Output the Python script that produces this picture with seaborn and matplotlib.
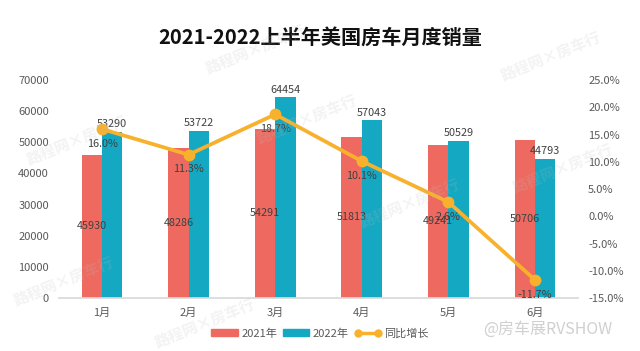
import matplotlib
matplotlib.use("Agg")
import matplotlib.pyplot as plt
import seaborn as sns
import pandas as pd
import numpy as np
from matplotlib.patches import Patch
from matplotlib.lines import Line2D

months = ["1月", "2月", "3月", "4月", "5月", "6月"]
sales_2021 = [45930, 48286, 54291, 51813, 49241, 50706]
sales_2022 = [53290, 53722, 64454, 57043, 50529, 44793]
yoy = [16.0, 11.3, 18.7, 10.1, 2.6, -11.7]
series_names = ["2021年", "2022年", "同比增长"]
left_ticks = [0, 10000, 20000, 30000, 40000, 50000, 60000, 70000]
right_ticks = [-15, -10, -5, 0, 5, 10, 15, 20, 25]

sns.set_theme(style="white")
plt.rcParams['font.family'] = ['Noto Sans CJK SC', 'DejaVu Sans']

c21 = "#EE6A60"
c22 = "#14A8C2"
cl = "#F8B12C"
tc = "#595959"

df = pd.DataFrame({
    "month": months * 2,
    "sales": sales_2021 + sales_2022,
    "year": [series_names[0]] * 6 + [series_names[1]] * 6,
})

fig = plt.figure(figsize=(6.4, 3.51), dpi=100)
ax = fig.add_axes([0.0917, 0.151, 0.812, 0.621])
sns.barplot(data=df, x="month", y="sales", hue="year", palette=[c21, c22],
            width=0.47, saturation=1, ax=ax, legend=False, errorbar=None,
            linewidth=0, edgecolor="none")
ax.set_xlim(-0.5, 5.5)
ax.set_ylim(0, 70000)
ax.set_yticks(left_ticks)
ax.set_xlabel("")
ax.set_ylabel("")
for s in ["top", "right", "left"]:
    ax.spines[s].set_visible(False)
ax.spines["bottom"].set_color("#d9d9d9")
ax.tick_params(axis="both", length=0, labelsize=8, colors=tc, pad=7)

ax.bar_label(ax.containers[0], labels=[str(v) for v in sales_2021],
             label_type="center", fontsize=7.8, color="#404040")
ax.bar_label(ax.containers[1], labels=[str(v) for v in sales_2022],
             label_type="edge", padding=2, fontsize=7.8, color="#404040")

ax2 = ax.twinx()
ax2.set_position(ax.get_position())
x = np.arange(len(months))
sns.lineplot(x=x, y=yoy, ax=ax2, color=cl, linewidth=2.7, marker="o",
             markersize=8.5, markeredgewidth=0)
ax2.set_ylim(-15, 25)
ax2.set_yticks(right_ticks)
ax2.set_yticklabels([f"{v:.1f}%" for v in right_ticks])
for s in ["top", "right", "left", "bottom"]:
    ax2.spines[s].set_visible(False)
ax2.tick_params(axis="y", length=0, labelsize=8, colors=tc, pad=7)
for xi, v in zip(x, yoy):
    ax2.annotate(f"{v:.1f}%", (xi, v), xytext=(0, -7), textcoords="offset points",
                 ha="center", va="top", fontsize=7.8, color="#404040")

handles = [Patch(color=c21), Patch(color=c22),
           Line2D([0], [0], color=cl, lw=2.5, marker="o", markersize=6, markeredgewidth=0)]
fig.legend(handles, series_names, loc="center", bbox_to_anchor=(0.5, 0.05),
           ncol=3, frameon=False, fontsize=8, handlelength=2.4, handleheight=0.6,
           columnspacing=0.5, handletextpad=0.3, labelcolor=tc, numpoints=2)

fig.text(0.5, 0.893, "2021-2022上半年美国房车月度销量", ha="center", va="center",
         fontsize=14.5, fontweight="bold", color="#111111")

# faint watermarks
for (wx, wy) in [(0.4, 0.86), (0.12, 0.6), (0.48, 0.66), (0.64, 0.42), (0.1, 0.2),
                 (0.88, 0.52), (0.32, 0.08), (0.86, 0.84)]:
    fig.text(wx, wy, "路程网×房车行", rotation=22, fontsize=11, fontweight="bold",
             color="#bbbbbb", alpha=0.18, ha="center", va="center")
fig.text(0.855, 0.062, "@房车展RVSHOW", ha="center", va="center", fontsize=11.5,
         color="#d0d0d0")

fig.savefig("out.png", dpi=100)
